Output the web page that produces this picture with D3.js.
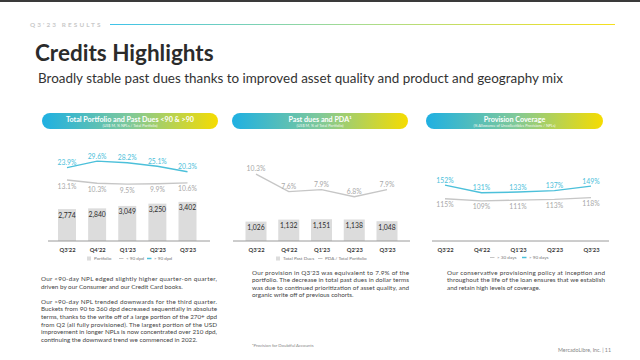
<!DOCTYPE html>
<html><head><meta charset="utf-8">
<script src="https://cdn.jsdelivr.net/npm/d3@7"></script>
<style>
html,body{margin:0;padding:0;background:#fff;}
svg{display:block;font-family:Lato,"Open Sans",sans-serif;}
</style></head><body>
<svg id="c" width="640" height="360"></svg>
<script>
// ---------- data ----------
const quarters = ["Q3'22","Q4'22","Q1'23","Q2'23","Q3'23"];
const portfolio = [2774,2840,3049,3250,3402];
const nplBelow90 = [13.1,10.3,9.5,9.9,10.6];
const nplAbove90 = [23.9,29.6,28.2,25.1,20.3];
const pastDues = [1026,1132,1151,1138,1048];
const pdaRatio = [10.3,7.6,7.9,6.8,7.9];
const coverage30 = [115,109,111,113,118];
const coverage90 = [152,131,133,137,149];

const panelTitles = ["Total Portfolio and Past Dues <90 & >90","Past dues and PDA¹","Provision Coverage"];
const panelSubtitles = ["(US$ M, % NPLs / Total Portfolio)","(US$ M, % of Total Portfolio)","(% Allowance of Uncollectibles Provisions / NPLs)"];
const legend1 = ["Portfolio","< 90 dpd","> 90 dpd"];
const legend2 = ["Total Past Dues","PDA / Total Portfolio"];
const legend3 = ["> 30 days","> 90 days"];
const para1 = [
 ["Our <90-day NPL edged slightly higher quarter-on quarter,","driven by our Consumer and our Credit Card books."],
 ["Our >90-day NPL trended downwards for the third quarter.","Buckets from 90 to 360 dpd decreased sequentially in absolute","terms, thanks to the write off of a large portion of the 270+ dpd","from Q2 (all fully provisioned). The largest portion of the USD","improvement in longer NPLs is now concentrated over 210 dpd,","continuing the downward trend we commenced in 2022."]
];
const para2 = [["Our provision in Q3'23 was equivalent to 7.9% of the","portfolio. The decrease in total past dues in dollar terms","was due to continued prioritization of asset quality, and","organic write off of previous cohorts."]];
const para3 = [["Our conservative provisioning policy at inception and","throughout the life of the loan ensures that we establish","and retain high levels of coverage."]];

// ---------- styles ----------
const CYAN = "#4cc0da", GREYL = "#c6c6c6", BAR = "#dcdcdc", TXT = "#3a3a3a";
const svg = d3.select("#c");
const defs = svg.append("defs");
const g1 = defs.append("linearGradient").attr("id","grad").attr("x1","0").attr("x2","1").attr("y1","0").attr("y2","0");
g1.append("stop").attr("offset","0").attr("stop-color","#1fb0e2");
g1.append("stop").attr("offset","0.5").attr("stop-color","#7fc99a");
g1.append("stop").attr("offset","1").attr("stop-color","#f6dc00");
const g2 = defs.append("linearGradient").attr("id","gradL").attr("gradientUnits","userSpaceOnUse").attr("x1",110).attr("x2",615).attr("y1",0).attr("y2",0);
g2.append("stop").attr("offset","0").attr("stop-color","#3ec3ea");
g2.append("stop").attr("offset","0.5").attr("stop-color","#a9dc8e");
g2.append("stop").attr("offset","1").attr("stop-color","#f6e01c");

// top strip
svg.append("rect").attr("x",0).attr("y",0).attr("width",640).attr("height",2).attr("fill","#3a3a3a");
// header
svg.append("text").attr("x",30).attr("y",26.5).attr("font-size",6.4).attr("letter-spacing",2.1)
  .attr("fill","#c9c9c9").attr("font-weight",700).text("Q3'23 RESULTS");
svg.append("rect").attr("x",110).attr("y",24).attr("width",505).attr("height",1).attr("fill","url(#gradL)");
svg.append("text").attr("x",35).attr("y",61).attr("font-size",22.5).attr("font-weight",700).attr("fill","#2b2b2b").text("Credits Highlights");
svg.append("text").attr("x",38).attr("y",83).attr("font-size",14.2).attr("fill","#333")
  .attr("textLength",525).attr("lengthAdjust","spacingAndGlyphs")
  .text("Broadly stable past dues thanks to improved asset quality and product and geography mix");

// pills
const pills = [[42,176],[232,176],[426,177]];
pills.forEach((p,i)=>{
  svg.append("rect").attr("x",p[0]).attr("y",113).attr("width",p[1]).attr("height",16).attr("rx",8).attr("fill","url(#grad)");
  svg.append("text").attr("x",p[0]+p[1]/2).attr("y",122).attr("text-anchor","middle").attr("font-size",7.2).attr("font-weight",700).attr("fill","#fff").text(panelTitles[i]);
  svg.append("text").attr("x",p[0]+p[1]/2).attr("y",127).attr("text-anchor","middle").attr("font-size",3.8).attr("fill","#f2f7ee").text(panelSubtitles[i]);
});

function axis(x0,x1,xs){
  svg.append("line").attr("x1",x0).attr("x2",x1).attr("y1",241).attr("y2",241).attr("stroke","#9a9a9a").attr("stroke-width",1);
  const ax = svg.append("g").attr("transform","translate(0,241)").call(d3.axisBottom(xs).tickSize(0).tickPadding(7));
  ax.select(".domain").remove();
  ax.selectAll("text").attr("font-size",5.8).attr("font-weight",700).attr("fill",TXT).attr("font-family","Lato,sans-serif");
}
function lineSeries(xs,ys,vals,color,lblDy,fmt,lblColor){
  const line = d3.line().x((d,i)=>xs(quarters[i])).y(d=>ys(d));
  svg.append("path").datum(vals).attr("d",line).attr("fill","none").attr("stroke",color).attr("stroke-width",1.4);
  svg.selectAll(null).data(vals).enter().append("text")
    .attr("x",(d,i)=>xs(quarters[i])).attr("y",d=>ys(d)+lblDy).attr("text-anchor","middle")
    .attr("font-size",6.8).attr("fill",lblColor).text(fmt);
}
function bars(xs,ys,vals,w){
  svg.selectAll(null).data(vals).enter().append("rect")
    .attr("x",(d,i)=>xs(quarters[i])-w/2).attr("y",d=>ys(d)).attr("width",w).attr("height",d=>ys(0)-ys(d)).attr("fill",BAR);
  svg.selectAll(null).data(vals).enter().append("text")
    .attr("x",(d,i)=>xs(quarters[i])).attr("y",d=>ys(d)+8.5).attr("text-anchor","middle")
    .attr("font-size",6.8).attr("fill","#2b2b2b").text(d3.format(","));
}
function legend(items,y){
  items.forEach(it=>{
    if(it.type==="sq") svg.append("rect").attr("x",it.x).attr("y",y-3.5).attr("width",4).attr("height",4).attr("fill",BAR);
    else svg.append("line").attr("x1",it.x).attr("x2",it.x+4.5).attr("y1",y-1.5).attr("y2",y-1.5).attr("stroke",it.c).attr("stroke-width",it.c===CYAN?1.5:1);
    svg.append("text").attr("x",it.x+7).attr("y",y).attr("font-size",4.6).attr("fill","#777").text(it.t);
  });
}
const pct1 = d=>d.toFixed(1)+"%";
const pct0 = d=>d+"%";

// panel 1
const x1 = d3.scalePoint().domain(quarters).range([67,187.5]);
const yb1 = d3.scaleLinear().domain([0,10000]).range([241,126]);
const yl1 = d3.scaleLinear().domain([0,30]).range([195,160.7]);
bars(x1,yb1,portfolio,18);
axis(48,210,x1);
lineSeries(x1,yl1,nplBelow90,GREYL,8.5,pct1,"#a8a8a8");
lineSeries(x1,yl1,nplAbove90,CYAN,-2.5,pct1,CYAN);
legend([{type:"sq",x:87,t:legend1[0]},{type:"ln",x:119,c:GREYL,t:legend1[1]},{type:"ln",x:147,c:CYAN,t:legend1[2]}],260);

// panel 2
const x2 = d3.scalePoint().domain(quarters).range([256,387]);
const yb2 = d3.scaleLinear().domain([0,1000]).range([241,222.1]);
const yl2 = d3.scaleLinear().domain([0,10]).range([241,176]);
bars(x2,yb2,pastDues,21);
axis(233,410,x2);
lineSeries(x2,yl2,pdaRatio,GREYL,-3,pct1,"#a8a8a8");
legend([{type:"sq",x:276,t:legend2[0]},{type:"ln",x:318,c:GREYL,t:legend2[1]}],260);

// panel 3
const x3 = d3.scalePoint().domain(quarters).range([445,591]);
const yl3 = d3.scaleLinear().domain([0,100]).range([241,204.2]);
axis(432,609,x3);
lineSeries(x3,yl3,coverage30,GREYL,8.5,pct0,"#a8a8a8");
lineSeries(x3,yl3,coverage90,CYAN,-2.5,pct0,CYAN);
legend([{type:"ln",x:490,c:GREYL,t:legend3[0]},{type:"ln",x:522,c:CYAN,t:legend3[1]}],259);

// paragraphs (justified)
function para(blocks,x,y0,w,lh,gap){
  let y=y0;
  blocks.forEach(lines=>{
    lines.forEach((ln,i)=>{
      const t = svg.append("text").attr("x",x).attr("y",y).attr("font-size",6.3).attr("fill","#444").text(ln);
      if(i<lines.length-1) t.attr("textLength",w).attr("lengthAdjust","spacing");
      y+=lh;
    });
    y+=gap;
  });
}
para(para1,41,281,176,7.6,7.6);
para(para2,252,275,157,7.4,0);
para(para3,447,275,158,7.4,0);

svg.append("text").attr("x",252).attr("y",346.5).attr("font-size",4.3).attr("fill","#888").text("¹Provision for Doubtful Accounts");
svg.append("text").attr("x",611).attr("y",352).attr("text-anchor","end").attr("font-size",5.3).attr("fill","#888").text("MercadoLibre, Inc.  |  11");
</script></body></html>
